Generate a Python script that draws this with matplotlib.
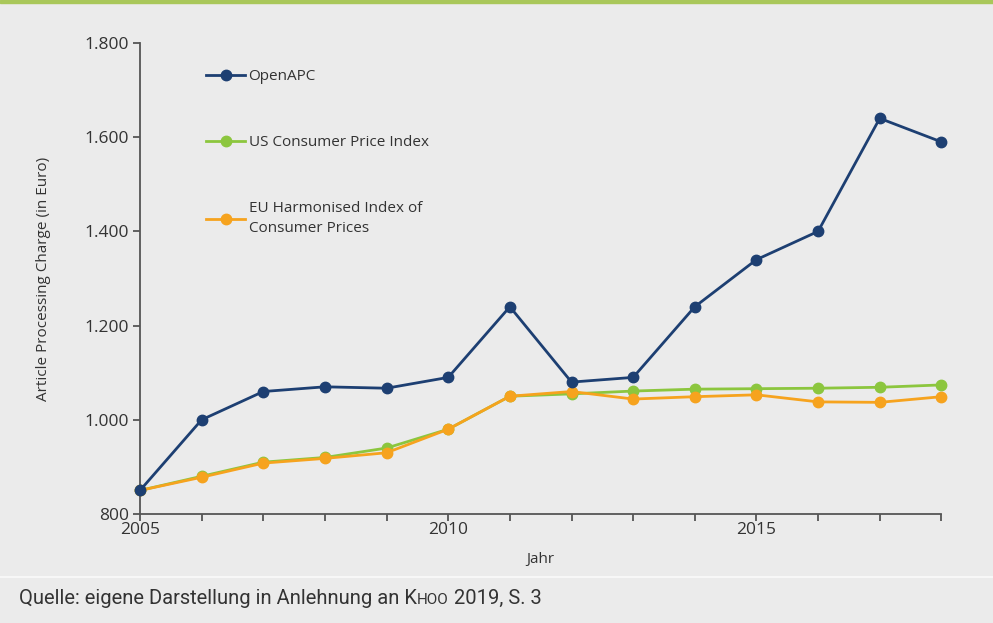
import matplotlib
matplotlib.use("Agg")
import matplotlib.pyplot as plt
from matplotlib.ticker import FixedLocator, FuncFormatter

years = list(range(2005, 2019))
open_apc = [850, 1000, 1060, 1070, 1067, 1090, 1240, 1080, 1090, 1240, 1340, 1400, 1640, 1590]
us_cpi = [850, 880, 910, 920, 940, 980, 1050, 1055, 1061, 1065, 1066, 1067, 1069, 1074]
eu_hicp = [850, 878, 908, 918, 930, 980, 1050, 1060, 1044, 1049, 1053, 1038, 1037, 1049]

series_labels = ["OpenAPC", "US Consumer Price Index",
                 "EU Harmonised Index of\nConsumer Prices"]
x_tick_labels = [2005, 2010, 2015]
y_ticks = [800, 1000, 1200, 1400, 1600, 1800]

bg = "#ebebeb"
navy = "#1d3f72"
green = "#8cc63e"
orange = "#f6a31e"
axis_col = "#555555"
text_col = "#333333"

plt.rcParams["font.family"] = ["Open Sans", "DejaVu Sans"]

fig = plt.figure(figsize=(9.93, 6.23), dpi=100, facecolor=bg)
ax = fig.add_axes([0.141, 0.175, 0.807, 0.756])
ax.set_facecolor(bg)

for vals, col, lab, z in [(open_apc, navy, series_labels[0], 3),
                          (us_cpi, green, series_labels[1], 2),
                          (eu_hicp, orange, series_labels[2], 2)]:
    ax.plot(years, vals, color=col, lw=2.0, marker="o", ms=7.5,
            mec=col, mfc=col, label=lab, zorder=z, clip_on=False)

ax.set_xlim(2005, 2018)
ax.set_ylim(800, 1800)
ax.xaxis.set_major_locator(FixedLocator(x_tick_labels))
ax.xaxis.set_minor_locator(FixedLocator(years))
ax.yaxis.set_major_locator(FixedLocator(y_ticks))
ax.yaxis.set_major_formatter(FuncFormatter(lambda v, p: f"{int(v):,}".replace(",", ".")))

for side in ["top", "right"]:
    ax.spines[side].set_visible(False)
for side in ["left", "bottom"]:
    ax.spines[side].set_color(axis_col)
    ax.spines[side].set_linewidth(1.3)
ax.tick_params(axis="both", which="both", color=axis_col, width=1.3, length=5,
               labelcolor=text_col, labelsize=12.5)
ax.tick_params(axis="x", pad=1)
ax.tick_params(axis="y", pad=3)

ax.set_xlabel("Jahr", fontsize=11, color=text_col, labelpad=10)
ax.set_ylabel("Article Processing Charge (in Euro)", fontsize=11, color=text_col, labelpad=24)

leg = ax.legend(loc="upper left", bbox_to_anchor=(0.082, 0.945), frameon=False,
                fontsize=11, labelspacing=3.35, handlelength=2.6, handletextpad=0.2,
                labelcolor=text_col, borderaxespad=0, borderpad=0)
leg.get_texts()[2].set_linespacing(1.45)

# frame decorations
fig.patches.append(plt.Rectangle((0, 0.995), 1, 0.005, transform=fig.transFigure,
                                 color="#a9c75a", zorder=5))
fig.add_artist(plt.Line2D([0, 1], [0.074, 0.074], transform=fig.transFigure,
                          color="#fafafa", lw=1.2))

foot_kw = dict(color=text_col, family=["Roboto", "DejaVu Sans"])
t1 = fig.text(0.019, 0.03, "Quelle: eigene Darstellung in Anlehnung an K",
              fontsize=14.5, va="baseline", **foot_kw)
t2 = plt.annotate("HOO", xy=(1, 0.03), xycoords=(t1, "figure fraction"),
                  fontsize=11, va="baseline", annotation_clip=False, **foot_kw)
t3 = plt.annotate(" 2019, S. 3", xy=(1, 0.03), xycoords=(t2, "figure fraction"),
                  fontsize=14.5, va="baseline", annotation_clip=False, **foot_kw)

fig.savefig("out.png", dpi=100, facecolor=bg)
